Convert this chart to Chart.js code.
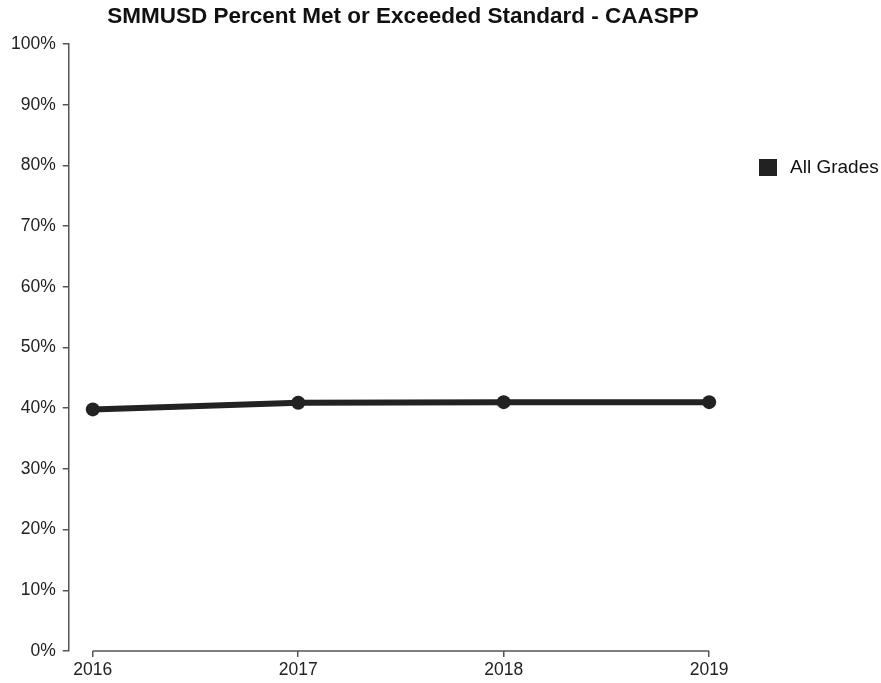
<!DOCTYPE html>
<html>
<head>
<meta charset="utf-8">
<script src="https://cdn.jsdelivr.net/npm/chart.js@4/dist/chart.umd.min.js"></script>
<style>
  html, body { margin: 0; padding: 0; background: #fff; }
  #wrap { position: relative; width: 881px; height: 683px; }
  #legend { position: absolute; left: 759px; top: 156px; font-family: "Liberation Sans", Arial, sans-serif; font-size: 19px; color: #111; display: flex; align-items: center; white-space: nowrap; }
  #legend .sw { display: inline-block; width: 18px; height: 17px; background: #222; margin-right: 13px; }
</style>
</head>
<body>
<div id="wrap">
  <canvas id="c" width="881" height="683"></canvas>
  <div id="legend"></div>
</div>
<script>
const years = [2016, 2017, 2018, 2019];
const seriesName = "All Grades";
const values = [39.8, 40.9, 41.0, 41.0];
const yTicks = [0, 10, 20, 30, 40, 50, 60, 70, 80, 90, 100];
const titleText = "SMMUSD Percent Met or Exceeded Standard - CAASPP";

const lineColor = "#222222";
const axisColor = "#555555";
const FONT = '"Liberation Sans", Arial, sans-serif';

document.getElementById('legend').innerHTML = '<span class="sw"></span><span>' + seriesName + '</span>';

const xAxisLine = {
  id: 'xAxisLine',
  afterDraw(chart) {
    const x = chart.scales.x, ctx = chart.ctx;
    const y = chart.chartArea.bottom;
    ctx.save();
    ctx.strokeStyle = axisColor;
    ctx.lineWidth = 1.5;
    ctx.beginPath();
    ctx.moveTo(x.getPixelForValue(years[0]), y);
    ctx.lineTo(x.getPixelForValue(years[years.length - 1]), y);
    ctx.stroke();
    ctx.restore();
  }
};

new Chart(document.getElementById('c'), {
  type: 'line',
  data: {
    datasets: [{
      label: seriesName,
      data: years.map((y, i) => ({ x: y, y: values[i] })),
      borderColor: lineColor,
      backgroundColor: lineColor,
      borderWidth: 6,
      pointRadius: 7,
      pointHoverRadius: 7,
      pointBackgroundColor: lineColor,
      pointBorderWidth: 0,
      tension: 0,
      clip: false
    }]
  },
  options: {
    responsive: false,
    animation: false,
    layout: { padding: { left: 4, right: 79, top: 0, bottom: 0 } },
    plugins: {
      legend: { display: false },
      tooltip: { enabled: false },
      title: {
        display: true,
        text: titleText,
        color: '#111',
        font: { family: FONT, size: 22.5, weight: 'bold' },
        padding: { top: 3, bottom: 14 }
      }
    },
    scales: {
      x: {
        type: 'linear',
        min: 2015.883,
        max: 2019.452,
        afterBuildTicks(scale) { scale.ticks = years.map(v => ({ value: v })); },
        ticks: {
          color: '#222',
          font: { family: FONT, size: 17.5 },
          padding: 2.5,
          maxRotation: 0,
          callback: v => String(v)
        },
        grid: { display: true, drawOnChartArea: false, tickLength: 6, color: axisColor, lineWidth: 1.5 },
        border: { display: false }
      },
      y: {
        min: 0,
        max: 100,
        afterBuildTicks(scale) { scale.ticks = yTicks.map(v => ({ value: v })); },
        ticks: {
          color: '#222',
          font: { family: FONT, size: 17.5 },
          padding: 7,
          callback: v => v + '%'
        },
        grid: { display: true, drawOnChartArea: false, tickLength: 6, color: axisColor, lineWidth: 1.5 },
        border: { display: true, color: axisColor, width: 1.5 }
      }
    }
  },
  plugins: [xAxisLine]
});
</script>
</body>
</html>
